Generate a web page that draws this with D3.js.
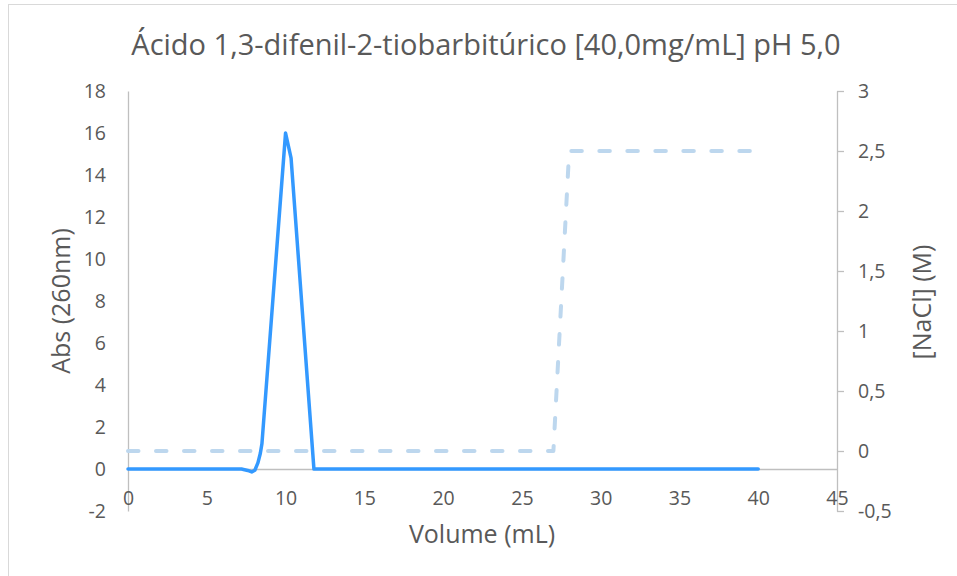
<!DOCTYPE html>
<html>
<head>
<meta charset="utf-8">
<script src="https://cdn.jsdelivr.net/npm/d3@7"></script>
<style>
  html, body { margin: 0; padding: 0; background: #fff; }
  svg { display: block; }
  text { font-family: "Open Sans", "DejaVu Sans", sans-serif; fill: #595959; }
</style>
</head>
<body>
<svg id="chart" width="957" height="576"></svg>
<script>
// Absorbance at 260 nm along the elution volume
const absVolume = [0, 7.2, 7.6, 7.85, 8.05, 8.25, 8.4, 8.5, 10, 10.35, 11.8, 12, 40];
const absValue  = [0, 0, -0.07, -0.14, -0.06, 0.3, 0.75, 1.2, 16, 14.8, 0, 0, 0];

// NaCl gradient (step elution)
const naclVolume = [0, 27, 28, 40];
const naclValue  = [0, 0, 2.5, 2.5];

const xTicks = [0, 5, 10, 15, 20, 25, 30, 35, 40, 45];
const yLeftTicks = [-2, 0, 2, 4, 6, 8, 10, 12, 14, 16, 18];
const yRightTicks = [-0.5, 0, 0.5, 1, 1.5, 2, 2.5, 3];

const titleText = "Ácido 1,3-difenil-2-tiobarbitúrico [40,0mg/mL] pH 5,0";
const xTitle = "Volume (mL)";
const yLeftTitle = "Abs (260nm)";
const yRightTitle = "[NaCl] (M)";

const svg = d3.select("#chart");
const W = 957, H = 576;
const plot = { left: 128, right: 837, top: 91, bottom: 511 };

const fmt = d => String(d).replace(".", ",");

// chart frame
svg.append("rect")
  .attr("x", 8.5).attr("y", 4.5)
  .attr("width", W).attr("height", H)
  .attr("fill", "#fff").attr("stroke", "#d9d9d9").attr("stroke-width", 1);

const x = d3.scaleLinear().domain([0, 45]).range([plot.left, plot.right]);
const yL = d3.scaleLinear().domain([-2, 18]).range([plot.bottom, plot.top]);
const yR = d3.scaleLinear().domain([-0.5, 3]).range([plot.bottom, plot.top]);

const axisColor = "#bfbfbf";
const tickFont = "19.5px";

// left value axis
const gL = svg.append("g").attr("transform", `translate(${plot.left},0)`)
  .call(d3.axisLeft(yL).tickValues(yLeftTicks).tickSize(0).tickPadding(22).tickFormat(fmt));
gL.select(".domain").attr("stroke", axisColor).attr("stroke-width", 1.3);
gL.selectAll("text").style("font-size", tickFont).attr("fill", "#595959");

// right value axis
const gR = svg.append("g").attr("transform", `translate(${plot.right},0)`)
  .call(d3.axisRight(yR).tickValues(yRightTicks).tickSizeInner(7).tickSizeOuter(0).tickPadding(14).tickFormat(fmt));
gR.select(".domain").attr("stroke", axisColor).attr("stroke-width", 1.3);
gR.selectAll(".tick line").attr("stroke", axisColor).attr("stroke-width", 1.3);
gR.selectAll("text").style("font-size", tickFont).attr("fill", "#595959");

// category axis crossing at Abs = 0
const gX = svg.append("g").attr("transform", `translate(0,${yL(0)})`)
  .call(d3.axisBottom(x).tickValues(xTicks).tickSize(0).tickPadding(22).tickFormat(fmt));
gX.select(".domain").attr("stroke", axisColor).attr("stroke-width", 1.3);
gX.selectAll("text").style("font-size", tickFont).attr("fill", "#595959");

// NaCl gradient line
const naclLine = d3.line().x((d, i) => x(naclVolume[i])).y(d => yR(d));
svg.append("path")
  .attr("d", naclLine(naclValue))
  .attr("fill", "none")
  .attr("stroke", "#bdd7ee")
  .attr("stroke-width", 4)
  .attr("stroke-dasharray", "10.5,17.5")
  .attr("stroke-linecap", "round")
  .attr("stroke-linejoin", "round");

// absorbance line
const absLine = d3.line().x((d, i) => x(absVolume[i])).y(d => yL(d));
svg.append("path")
  .attr("d", absLine(absValue))
  .attr("fill", "none")
  .attr("stroke", "#3399ff")
  .attr("stroke-width", 3.5)
  .attr("stroke-linecap", "round")
  .attr("stroke-linejoin", "round");

// titles
svg.append("text")
  .attr("x", 486).attr("y", 55)
  .attr("text-anchor", "middle")
  .style("font-size", "29px")
  .text(titleText);

svg.append("text")
  .attr("x", 482).attr("y", 543)
  .attr("text-anchor", "middle")
  .style("font-size", "25px")
  .text(xTitle);

svg.append("text")
  .attr("transform", `translate(70,301) rotate(-90)`)
  .attr("text-anchor", "middle")
  .style("font-size", "25px")
  .text(yLeftTitle);

svg.append("text")
  .attr("transform", `translate(931,302) rotate(-90)`)
  .attr("text-anchor", "middle")
  .style("font-size", "25px")
  .text(yRightTitle);
</script>
</body>
</html>
